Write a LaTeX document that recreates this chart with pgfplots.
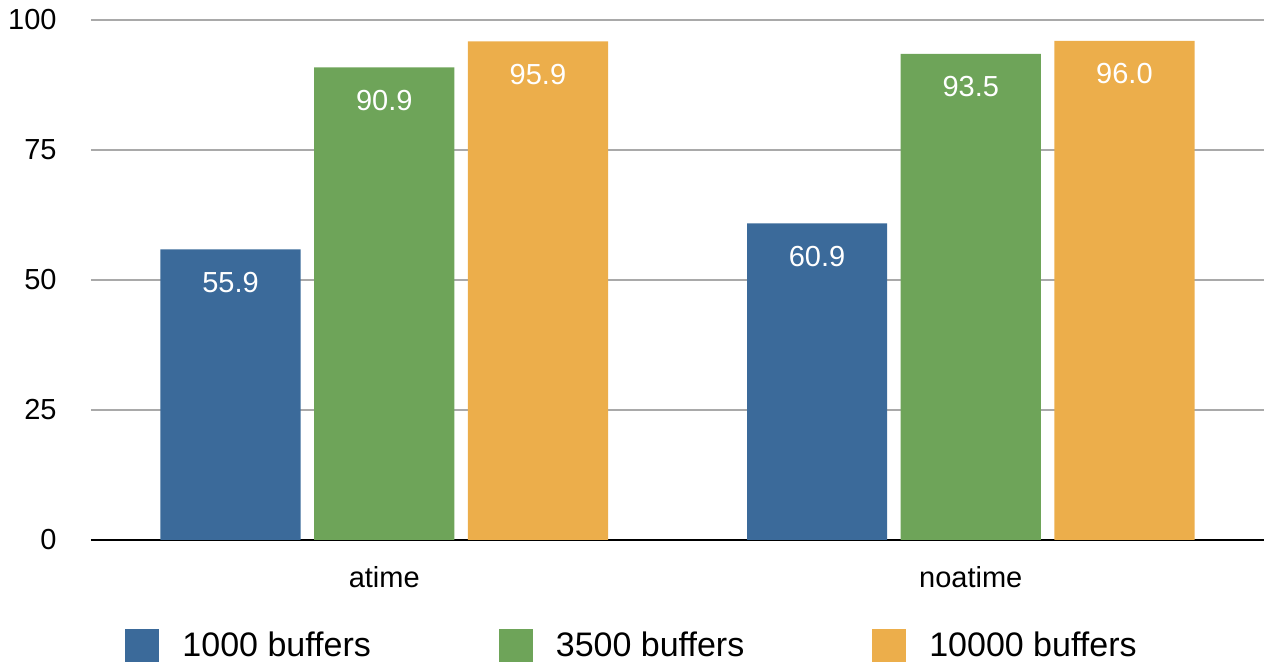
\documentclass[border=0pt]{standalone}
\usepackage{pgfplots}
\pgfplotsset{compat=1.18}
\usepackage{fontspec}
\setmainfont{Liberation Sans}
\definecolor{cblue}{HTML}{3B6A9A}
\definecolor{cgreen}{HTML}{6EA459}
\definecolor{corange}{HTML}{ECAE4B}
\definecolor{gridgray}{HTML}{A9A9A9}
\begin{document}
\begin{tikzpicture}
\path[use as bounding box] (-45.5pt,-61pt) rectangle (586.5pt,270pt);
\begin{axis}[
  at={(0,0)}, anchor=south west,
  scale only axis, width=586.5pt, height=260pt,
  xmin=-0.5, xmax=1.5, ymin=0, ymax=100,
  xtick={0,1}, xticklabels={atime,noatime},
  ytick={25,50,75,100},
  extra y ticks={0},
  extra y tick style={ymajorgrids=true, major grid style={black, line width=1pt}},
  ymajorgrids, major grid style={color=gridgray, line width=1pt},
  axis line style={draw=none},
  major tick length=0pt,
  ybar, bar width=0.239,
  tick label style={font=\fontsize{14.5}{17}\selectfont},
  yticklabel style={inner sep=0pt, xshift=-17pt},
  xticklabel style={inner sep=0pt, anchor=center, yshift=-18.5pt},
  /pgf/number format/assume math mode=true,
  nodes near coords={\pgfmathprintnumber[fixed,fixed zerofill,precision=1]{\pgfplotspointmeta}},
  every node near coord/.append style={font=\fontsize{14.5}{17}\selectfont, color=white, anchor=center, yshift=-16.5pt},
  legend style={at={(0.4604,0)}, anchor=center, yshift=-53pt, draw=none,
    font=\fontsize{17}{20}\selectfont,
    /tikz/every even column/.append style={column sep=64pt},
    /tikz/every odd column/.append style={column sep=11.5pt},
    inner sep=0pt, nodes={inner sep=0pt}},
  legend columns=3,
]
\addplot[fill=cblue, draw=none, bar shift=-0.262,
  legend image code/.code={\fill[cblue] (0pt,-8.25pt) rectangle (17pt,8.25pt);}]
  coordinates {(0,55.9) (1,60.9)};
\addplot[fill=cgreen, draw=none, bar shift=0,
  legend image code/.code={\fill[cgreen] (0pt,-8.25pt) rectangle (17pt,8.25pt);}]
  coordinates {(0,90.9) (1,93.5)};
\addplot[fill=corange, draw=none, bar shift=0.262,
  legend image code/.code={\fill[corange] (0pt,-8.25pt) rectangle (17pt,8.25pt);}]
  coordinates {(0,95.9) (1,96.0)};
\legend{1000 buffers, 3500 buffers, 10000 buffers}
\end{axis}
\end{tikzpicture}
\end{document}
